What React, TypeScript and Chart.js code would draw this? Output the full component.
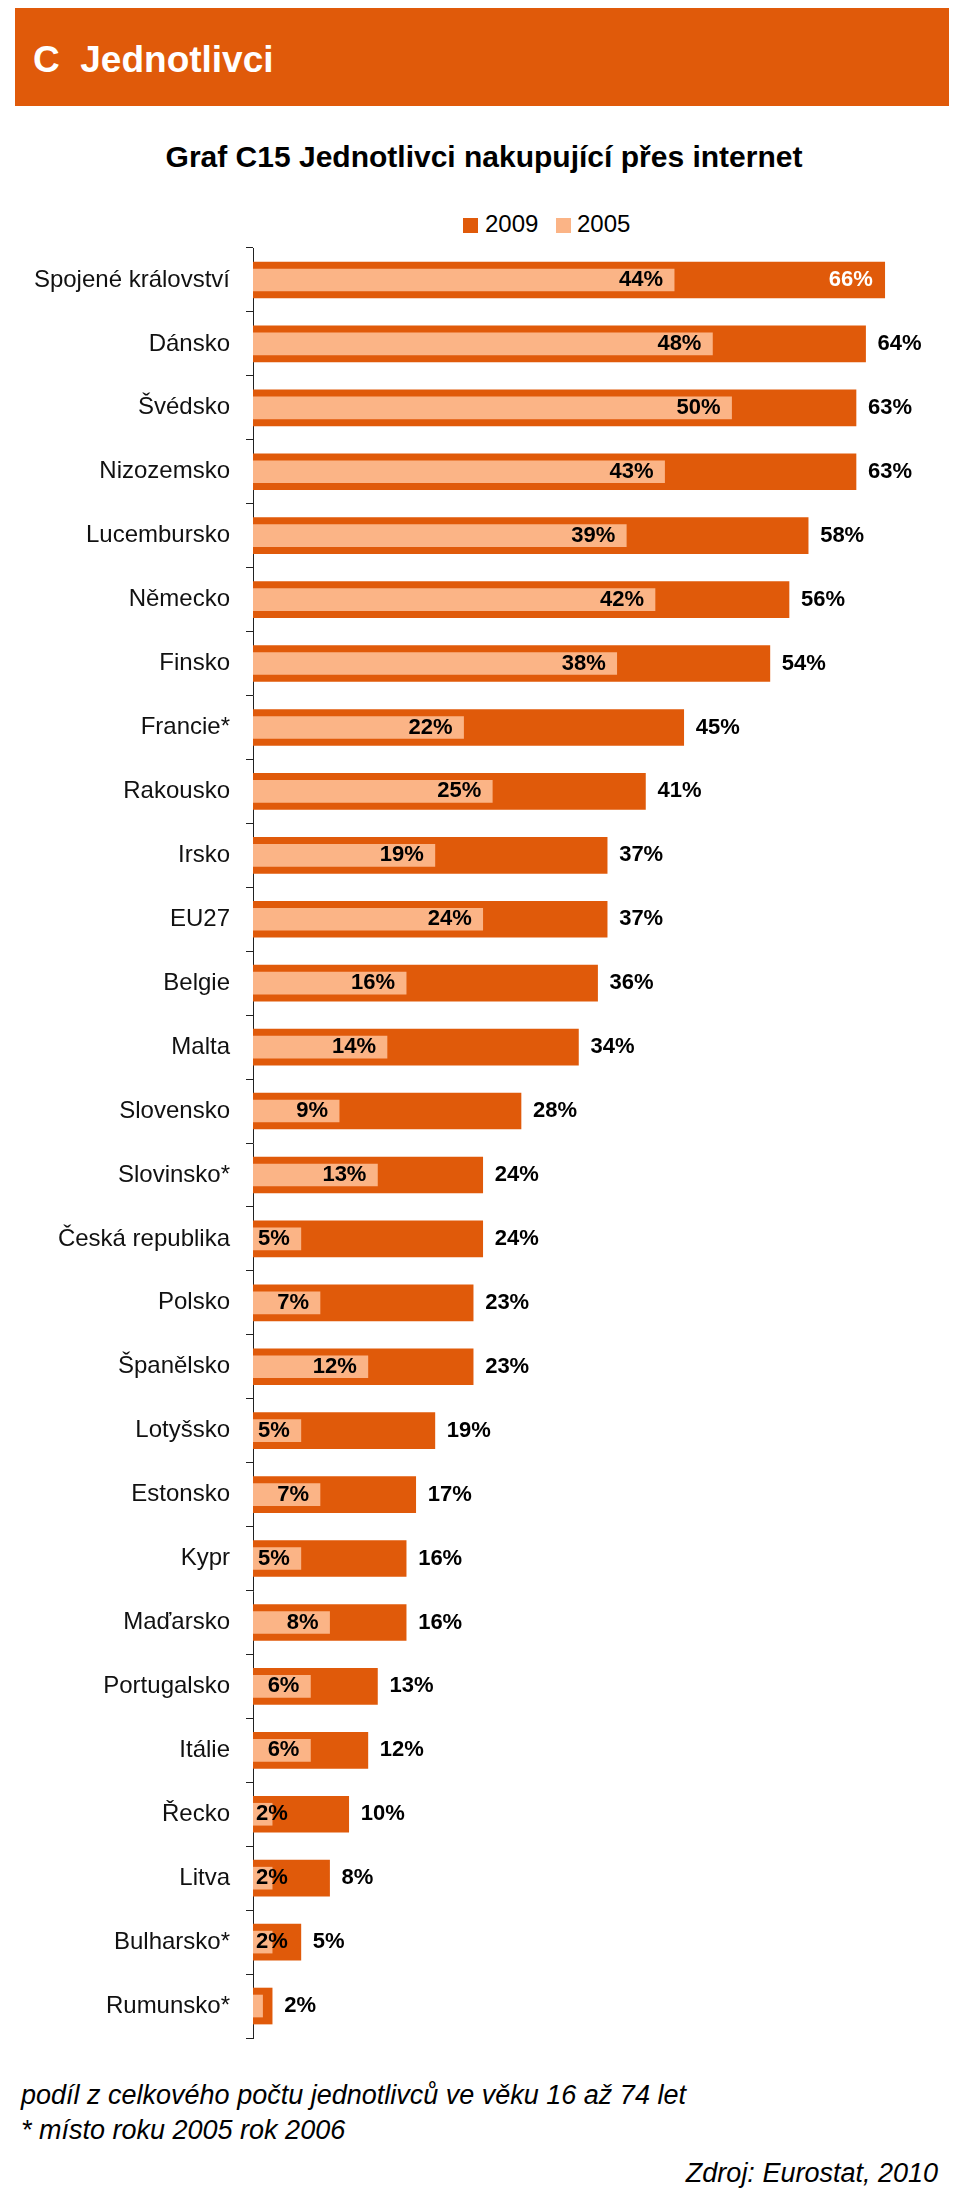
import React, { useEffect, useRef } from "react";
import { Chart, registerables } from "chart.js";

Chart.register(...registerables);

const categories = [
  "Spojené království",
  "Dánsko",
  "Švédsko",
  "Nizozemsko",
  "Lucembursko",
  "Německo",
  "Finsko",
  "Francie*",
  "Rakousko",
  "Irsko",
  "EU27",
  "Belgie",
  "Malta",
  "Slovensko",
  "Slovinsko*",
  "Česká republika",
  "Polsko",
  "Španělsko",
  "Lotyšsko",
  "Estonsko",
  "Kypr",
  "Maďarsko",
  "Portugalsko",
  "Itálie",
  "Řecko",
  "Litva",
  "Bulharsko*",
  "Rumunsko*",
];

const values2009 = [66, 64, 63, 63, 58, 56, 54, 45, 41, 37, 37, 36, 34, 28, 24, 24, 23, 23, 19, 17, 16, 16, 13, 12, 10, 8, 5, 2];
const values2005 = [44, 48, 50, 43, 39, 42, 38, 22, 25, 19, 24, 16, 14, 9, 13, 5, 7, 12, 5, 7, 5, 8, 6, 6, 2, 2, 2, 1];

const seriesNames = ["2009", "2005"];

const ORANGE = "#E05A0A";
const PEACH = "#FBB486";
const FONT = "'Liberation Sans', Arial, Helvetica, sans-serif";

const valueLabels = {
  id: "valueLabels",
  afterDatasetsDraw(chart: any) {
    const { ctx, chartArea } = chart;
    ctx.save();
    ctx.font = `bold 22px ${FONT}`;
    ctx.textBaseline = "middle";
    const m0 = chart.getDatasetMeta(0);
    m0.data.forEach((bar: any, i: number) => {
      const txt = values2009[i] + "%";
      const w = ctx.measureText(txt).width;
      const { x, y } = bar.getProps(["x", "y"], true);
      if (x + 12 + w > chartArea.right) {
        ctx.fillStyle = "#ffffff";
        ctx.textAlign = "right";
        ctx.fillText(txt, x - 12, y);
      } else {
        ctx.fillStyle = "#000000";
        ctx.textAlign = "left";
        ctx.fillText(txt, x + 12, y);
      }
    });
    const m1 = chart.getDatasetMeta(1);
    m1.data.forEach((bar: any, i: number) => {
      const v = values2005[i];
      if (v < 2) return;
      const txt = v + "%";
      const w = ctx.measureText(txt).width;
      const { x, y, base } = bar.getProps(["x", "y", "base"], true);
      let left = x - 11 - w;
      if (left < base + 3) left = base + 3;
      ctx.fillStyle = "#000000";
      ctx.textAlign = "left";
      ctx.fillText(txt, left, y);
    });
    ctx.restore();
  },
};

function BarChart() {
  const ref = useRef<HTMLCanvasElement | null>(null);
  useEffect(() => {
    if (!ref.current) return;
    Chart.defaults.font.family = FONT;
    const chart = new Chart(ref.current, {
      type: "bar",
      data: {
        labels: categories,
        datasets: [
          {
            label: seriesNames[0],
            data: values2009,
            backgroundColor: ORANGE,
            borderWidth: 0,
            barThickness: 36,
            grouped: false,
            order: 2,
          },
          {
            label: seriesNames[1],
            data: values2005,
            backgroundColor: PEACH,
            borderWidth: 0,
            barThickness: 22,
            grouped: false,
            order: 1,
          },
        ],
      },
      options: {
        indexAxis: "y",
        responsive: false,
        animation: false,
        devicePixelRatio: 1,
        layout: { padding: { top: 18, bottom: 22, left: 0, right: 37 } },
        plugins: {
          legend: { display: false },
          title: { display: false },
          tooltip: { enabled: false },
        },
        scales: {
          x: { display: false, min: 0, max: 70 },
          y: {
            afterFit(scale: any) {
              scale.width = 253;
              scale.paddingTop = 0;
              scale.paddingBottom = 0;
            },
            border: { display: true, color: "#222222", width: 1 },
            grid: {
              display: true,
              drawOnChartArea: false,
              drawTicks: true,
              tickLength: 7,
              color: "#222222",
              offset: true,
            },
            ticks: {
              autoSkip: false,
              padding: 16,
              color: "#111111",
              font: { size: 24, family: FONT },
            },
          },
        },
      },
      plugins: [valueLabels],
    } as any);
    return () => chart.destroy();
  }, []);
  return (
    <canvas
      ref={ref}
      width={960}
      height={1830}
      style={{ position: "absolute", left: 0, top: 230, width: 960, height: 1830 }}
    />
  );
}

export default function App() {
  const text = (fs: number, baseline: number): React.CSSProperties => ({
    position: "absolute",
    fontSize: fs,
    lineHeight: `${fs}px`,
    top: baseline - 0.8465 * fs,
    whiteSpace: "pre",
    fontFamily: FONT,
    margin: 0,
  });
  return (
    <div style={{ position: "absolute", left: 0, top: 0, width: 960, height: 2192, background: "#ffffff", fontFamily: FONT }}>
      <div style={{ position: "absolute", left: 15, top: 8, width: 934, height: 98, background: ORANGE }} />
      <div style={{ ...text(37, 72), left: 33, color: "#ffffff", fontWeight: "bold" }}>C  Jednotlivci</div>
      <div style={{ ...text(30, 167), left: 4, width: 960, textAlign: "center", color: "#000000", fontWeight: "bold" }}>
        Graf C15 Jednotlivci nakupující přes internet
      </div>
      <div style={{ position: "absolute", left: 463, top: 218, width: 15, height: 15, background: ORANGE }} />
      <div style={{ ...text(24, 232), left: 485, color: "#000000" }}>{seriesNames[0]}</div>
      <div style={{ position: "absolute", left: 556, top: 218, width: 15, height: 15, background: PEACH }} />
      <div style={{ ...text(24, 232), left: 577, color: "#000000" }}>{seriesNames[1]}</div>
      <BarChart />
      <div style={{ ...text(27, 2105), left: 21, fontStyle: "italic", color: "#000000" }}>
        podíl z celkového počtu jednotlivců ve věku 16 až 74 let
      </div>
      <div style={{ ...text(27, 2140), left: 21, fontStyle: "italic", color: "#000000" }}>* místo roku 2005 rok 2006</div>
      <div style={{ ...text(27, 2183), left: 0, width: 938, textAlign: "right", fontStyle: "italic", color: "#000000" }}>
        Zdroj: Eurostat, 2010
      </div>
    </div>
  );
}
